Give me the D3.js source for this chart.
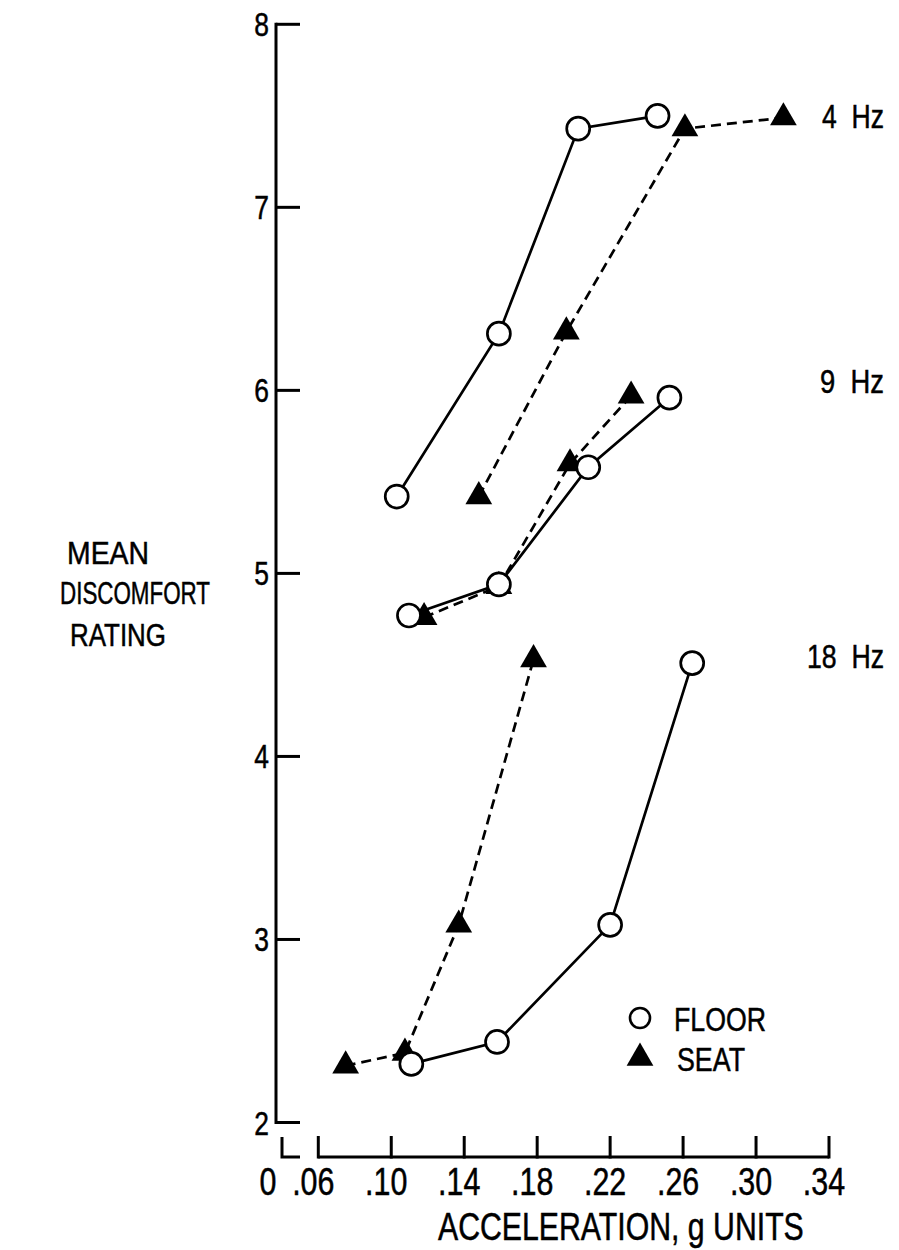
<!DOCTYPE html>
<html>
<head>
<meta charset="utf-8">
<script src="https://cdn.jsdelivr.net/npm/d3@7"></script>
<style>
  html, body { margin: 0; padding: 0; background: #fff; }
  svg text { font-family: "Liberation Sans", Arial, sans-serif; fill: #000; stroke: #000; stroke-width: 0.5px; }
</style>
</head>
<body>
<svg id="chart" width="899" height="1250"></svg>
<script>
// Mean discomfort rating vs. vertical acceleration, floor vs. seat input
const frequencies = ["4 Hz", "9 Hz", "18 Hz"];
const frequencyLabelRating = [7.50, 6.05, 4.55];

const floor4Accel = [0.103, 0.159, 0.2025, 0.246];
const floor4Rating = [5.42, 6.31, 7.43, 7.50];
const seat4Accel = [0.148, 0.196, 0.261, 0.315];
const seat4Rating = [5.42, 6.32, 7.43, 7.49];

const floor9Accel = [0.1097, 0.159, 0.208, 0.2525];
const floor9Rating = [4.77, 4.94, 5.58, 5.96];
const seat9Accel = [0.118, 0.159, 0.198, 0.2315];
const seat9Rating = [4.76, 4.93, 5.60, 5.97];

const floor18Accel = [0.111, 0.158, 0.220, 0.265];
const floor18Rating = [2.32, 2.44, 3.08, 4.51];
const seat18Accel = [0.075, 0.1075, 0.137, 0.178];
const seat18Rating = [2.31, 2.38, 3.08, 4.53];

const xTicks = [0.06, 0.10, 0.14, 0.18, 0.22, 0.26, 0.30, 0.34];
const xTickLabels = [".06", ".10", ".14", ".18", ".22", ".26", ".30", ".34"];
const yTicks = [2, 3, 4, 5, 6, 7, 8];

const svg = d3.select("#chart");

const x = d3.scaleLinear().domain([0.06, 0.34]).range([318.3, 829]);
// short stub of the broken axis at the origin
const xStub = d3.scaleLinear().domain([0, 0.01]).range([282, 300]);
const y = d3.scaleLinear().domain([2, 8]).range([1122.5, 24.3]);

const axisColor = "#000";
const axisWidth = 3;
const baseY = 1157;
const yAxisX = 276;

// narrow lettering: horizontally squeezed sans text
function narrowText(sel, opts) {
  return sel.append("text")
    .attr("transform", `translate(${opts.x},${opts.y}) scale(${opts.sx},1)`)
    .attr("text-anchor", opts.anchor || "start")
    .attr("font-size", opts.size)
    .attr("xml:space", "preserve")
    .text(opts.text);
}
// squeeze a text so that it spans the given width
function fitText(sel, opts) {
  const t = sel.append("text")
    .attr("font-size", opts.size)
    .attr("xml:space", "preserve")
    .attr("text-anchor", opts.anchor || "start")
    .text(opts.text);
  const natural = t.node().getComputedTextLength();
  const sx = opts.width / natural;
  t.attr("transform", `translate(${opts.x},${opts.y}) scale(${sx},1)`);
  return t;
}

// ---- y axis (ticks point inward) ----
const gy = svg.append("g");
gy.append("line")
  .attr("x1", yAxisX).attr("x2", yAxisX)
  .attr("y1", y(8) - 1.5).attr("y2", y(2) + 1.5)
  .attr("stroke", axisColor).attr("stroke-width", axisWidth);
gy.selectAll("line.tick").data(yTicks).join("line")
  .attr("class", "tick")
  .attr("x1", yAxisX).attr("x2", yAxisX + 24)
  .attr("y1", d => y(d)).attr("y2", d => y(d))
  .attr("stroke", axisColor).attr("stroke-width", axisWidth);
yTicks.forEach(d => narrowText(gy, { x: yAxisX - 7, y: y(d) + 12, anchor: "end", size: 33, sx: 0.8, text: String(d) }));

// ---- x axis (broken after the origin) ----
const gx = svg.append("g");
gx.append("path")
  .attr("d", `M${xStub(0)},${baseY - 20}V${baseY}H${xStub(0.01)}`)
  .attr("fill", "none").attr("stroke", axisColor).attr("stroke-width", axisWidth);
gx.append("line")
  .attr("x1", x(0.06)).attr("x2", x(0.34))
  .attr("y1", baseY).attr("y2", baseY)
  .attr("stroke", axisColor).attr("stroke-width", axisWidth);
gx.selectAll("line.tick").data(xTicks).join("line")
  .attr("class", "tick")
  .attr("x1", d => x(d)).attr("x2", d => x(d))
  .attr("y1", baseY + 1.5).attr("y2", baseY - 21)
  .attr("stroke", axisColor).attr("stroke-width", axisWidth);
narrowText(gx, { x: xStub(0) - 14, y: 1195, anchor: "middle", size: 38, sx: 0.8, text: "0" });
xTicks.forEach((d, i) => narrowText(gx, { x: x(d) - 5, y: 1195, anchor: "middle", size: 38, sx: 0.8, text: xTickLabels[i] }));

// ---- axis titles ----
fitText(svg, { x: 438, y: 1240, size: 38, width: 366, text: "ACCELERATION, g UNITS" });

const yTitle = [
  { t: "MEAN", x: 67, y: 564, w: 82 },
  { t: "DISCOMFORT", x: 60, y: 604, w: 150 },
  { t: "RATING", x: 70, y: 646, w: 96 }
];
yTitle.forEach(d => fitText(svg, { x: d.x, y: d.y, size: 32, width: d.w, text: d.t }));

// ---- series ----
const series = [
  { accel: floor4Accel, rating: floor4Rating, kind: "floor" },
  { accel: seat4Accel, rating: seat4Rating, kind: "seat" },
  { accel: floor9Accel, rating: floor9Rating, kind: "floor" },
  { accel: seat9Accel, rating: seat9Rating, kind: "seat" },
  { accel: floor18Accel, rating: floor18Rating, kind: "floor" },
  { accel: seat18Accel, rating: seat18Rating, kind: "seat" }
].map(s => ({ kind: s.kind, pts: s.accel.map((a, i) => [a, s.rating[i]]) }));

const line = d3.line().x(d => x(d[0])).y(d => y(d[1]));

svg.append("g").selectAll("path").data(series).join("path")
  .attr("d", s => line(s.pts))
  .attr("fill", "none")
  .attr("stroke", "#000")
  .attr("stroke-width", 2.7)
  .attr("stroke-dasharray", s => s.kind === "seat" ? "10,6" : null);

const triangle = d3.symbol().type(d3.symbolTriangle).size(310);

// seat markers (filled triangles)
svg.append("g").selectAll("path")
  .data(series.filter(s => s.kind === "seat").flatMap(s => s.pts))
  .join("path")
  .attr("d", triangle)
  .attr("transform", d => `translate(${x(d[0])},${y(d[1])})`)
  .attr("fill", "#000");

// floor markers (open circles)
svg.append("g").selectAll("circle")
  .data(series.filter(s => s.kind === "floor").flatMap(s => s.pts))
  .join("circle")
  .attr("cx", d => x(d[0])).attr("cy", d => y(d[1]))
  .attr("r", 11.5)
  .attr("fill", "#fff").attr("stroke", "#000").attr("stroke-width", 2.7);

// ---- frequency labels ----
const gHz = svg.append("g");
const hzWidth = [62, 64, 77];
frequencies.forEach((d, i) => fitText(gHz, {
  x: 884, y: y(frequencyLabelRating[i]) + 12, anchor: "end", size: 33, width: hzWidth[i],
  text: d.replace(" ", "  ")
}));

// ---- legend ----
const legend = svg.append("g");
legend.append("circle")
  .attr("cx", 640).attr("cy", 1018).attr("r", 10)
  .attr("fill", "#fff").attr("stroke", "#000").attr("stroke-width", 2.6);
legend.append("path")
  .attr("d", triangle)
  .attr("transform", "translate(640,1058)")
  .attr("fill", "#000");
fitText(legend, { x: 674, y: 1031, size: 34, width: 92, text: "FLOOR" });
fitText(legend, { x: 677, y: 1071, size: 34, width: 68, text: "SEAT" });
</script>
</body>
</html>
